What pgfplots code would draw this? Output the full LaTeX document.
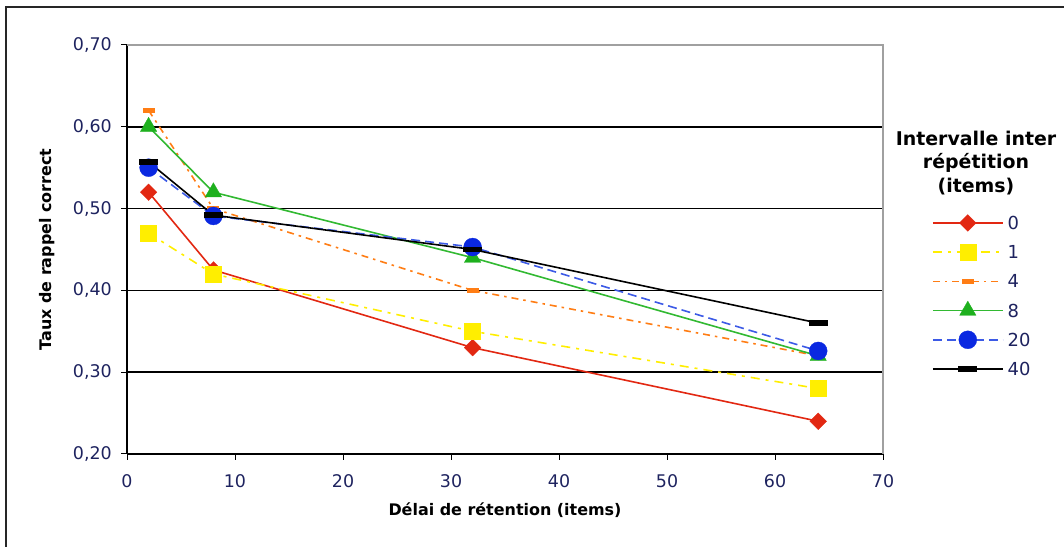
\documentclass[border=0pt]{standalone}
\usepackage{pgfplots}
\pgfplotsset{compat=1.18}
\usepackage{fontspec}
\setmainfont{DejaVu Sans}
\definecolor{cred}{RGB}{226,40,18}
\definecolor{cyel}{RGB}{255,238,0}
\definecolor{cora}{RGB}{255,125,20}
\definecolor{cgrn}{RGB}{30,176,30}
\definecolor{cgrnl}{RGB}{50,185,50}
\definecolor{cblu}{RGB}{10,40,225}
\definecolor{cblul}{RGB}{60,90,230}
\definecolor{ctxt}{RGB}{30,35,95}
\definecolor{cgray}{RGB}{160,160,160}
\pgfdeclareplotmark{hbar}{%
  \pgfpathrectangle{\pgfqpoint{-\pgfplotmarksize}{-2.75bp}}{\pgfqpoint{2\pgfplotmarksize}{5.5bp}}%
  \pgfusepathqfill}
\begin{document}
\begin{tikzpicture}[x=1bp,y=1bp]
\path[use as bounding box] (0,0) rectangle (1064,547);
\draw[line width=1.6bp, black!85] (6,-5) -- (6,540) -- (1070,540);
\begin{axis}[
  at={(127bp,93bp)}, anchor=south west,
  scale only axis, width=756bp, height=409bp,
  xmin=0, xmax=70, ymin=0.2, ymax=0.7,
  clip=false,
  axis lines=left,
  axis line style={-, line width=1.5bp, black},
  xtick={0,10,...,70},
  ytick={0.2,0.3,0.4,0.5,0.6,0.7},
  tick align=outside,
  major tick length=6bp,
  tick style={black, line width=1bp},
  extra y ticks={0.3,0.4,0.5,0.6},
  extra y tick labels={},
  extra y tick style={ymajorgrids=true, major tick length=0pt, major grid style={black, line width=1.5bp}},
  /pgf/number format/assume math mode=true,
  ticklabel style={font=\fontsize{17.5}{19}\selectfont, text=ctxt, inner sep=0pt},
  yticklabel style={anchor=east, xshift=-9bp, /pgf/number format/.cd, fixed, fixed zerofill, precision=2, use comma},
  xticklabel style={anchor=north, yshift=-14.5bp},
  xlabel={Délai de rétention (items)},
  ylabel={Taux de rappel correct},
  label style={font=\bfseries\fontsize{16}{18}\selectfont},
  xlabel style={at={(axis description cs:0.5,-0.1369)}, anchor=center},
  ylabel style={at={(axis description cs:-0.1058,0.5)}, anchor=center},
  legend image code/.code={%
    \draw[mark repeat=2, mark phase=2, #1] plot coordinates {(0bp,0bp) (35bp,0bp) (70bp,0bp)};},
  legend style={at={(axis description cs:1.0648,0.6005)}, anchor=north west,
    draw=none, fill=none, inner sep=0pt, outer sep=0pt, row sep=0pt, column sep=4bp,
    font=\fontsize{18}{20}\selectfont, text=ctxt,
    nodes={inner sep=0pt, text height=21.2bp, text depth=8bp}},
  legend cell align=left,
  every axis plot/.append style={line width=1.6bp},
]
\addplot[cred, mark=square*, mark size=5.9bp, mark options={solid, rotate=45, fill=cred, draw=cred, line width=0.3bp}]
  coordinates {(2,0.52) (8,0.425) (32,0.33) (64,0.24)};
\addlegendentry{0}
\addplot[cyel, dash pattern=on 9bp off 6bp on 3bp off 6bp, mark=square*, mark size=8bp, mark options={solid, fill=cyel, draw=cyel, line width=0.3bp}]
  coordinates {(2,0.47) (8,0.42) (32,0.35) (64,0.28)};
\addlegendentry{1}
\addplot[cora, dash pattern=on 7bp off 5bp on 2.5bp off 5bp, mark=hbar, mark size=6bp, mark options={solid, fill=cora}]
  coordinates {(2,0.62) (8,0.50) (32,0.40) (64,0.32)};
\addlegendentry{4}
\addplot[cgrnl, mark=triangle*, mark size=9.5bp, mark options={solid, fill=cgrn, draw=cgrn, line width=0.3bp}]
  coordinates {(2,0.60) (8,0.52) (32,0.44) (64,0.32)};
\addlegendentry{8}
\addplot[cblul, dash pattern=on 9bp off 5bp, mark=*, mark size=9bp, mark options={solid, fill=cblu, draw=cblu, line width=0.3bp}]
  coordinates {(2,0.55) (8,0.491) (32,0.453) (64,0.326)};
\addlegendentry{20}
\addplot[black, mark=hbar, mark size=9.5bp, mark options={solid, fill=black}]
  coordinates {(2,0.557) (8,0.492) (32,0.45) (64,0.36)};
\addlegendentry{40}
\draw[cgray, line width=1.5bp] (rel axis cs:0,1) -- (rel axis cs:1,1) -- (rel axis cs:1,0);
\end{axis}
\node[align=center, font=\bfseries\fontsize{19}{23.5}\selectfont, inner sep=0pt] at (976,384) {Intervalle inter\\répétition\\(items)};
\end{tikzpicture}
\end{document}
